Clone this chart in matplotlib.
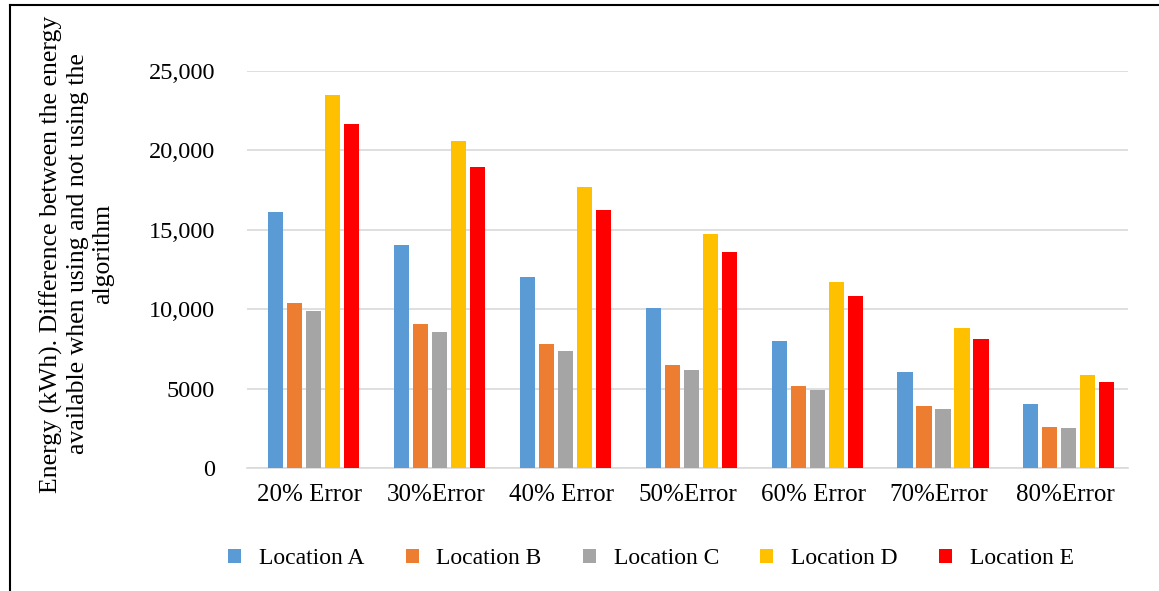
import matplotlib.pyplot as plt
import numpy as np
from matplotlib.lines import Line2D

plt.rcParams['font.family'] = ['Liberation Serif', 'DejaVu Serif']

categories = ['20% Error', '30%Error', '40% Error', '50%Error',
              '60% Error', '70%Error', '80%Error']
locations = ['Location A', 'Location B', 'Location C', 'Location D', 'Location E']
colors = ['#5b9bd5', '#ed7d31', '#a5a5a5', '#ffc000', '#ff0000']

loc_a = [16120, 14080, 12030, 10090, 8020, 6080, 4030]
loc_b = [10430, 9090, 7810, 6520, 5200, 3920, 2620]
loc_c = [9900, 8560, 7350, 6190, 4930, 3710, 2520]
loc_d = [23500, 20570, 17700, 14750, 11710, 8820, 5880]
loc_e = [21680, 18950, 16270, 13580, 10850, 8140, 5450]
series = [loc_a, loc_b, loc_c, loc_d, loc_e]

fig = plt.figure(figsize=(11.59, 5.91), dpi=100)
ax = fig.add_axes([247 / 1159, 1 - 468.3 / 591, (1128 - 247) / 1159, (468.3 - 71) / 591])

x = np.arange(len(categories))
slot = 0.151
width = 0.12
for i, (vals, name, c) in enumerate(zip(series, locations, colors)):
    ax.bar(x + (i - 2) * slot + 0.03, vals, width, color=c, label=name, zorder=3)

ax.set_xlim(-0.5, len(categories) - 0.5)
ax.set_ylim(0, 25000)
ax.set_yticks([0, 5000, 10000, 15000, 20000, 25000])
ax.set_yticklabels(['0', '5000', '10,000', '15,000', '20,000', '25,000'], fontsize=17.5)
ax.set_xticks(x)
ax.set_xticklabels(categories, fontsize=18)
ax.tick_params(axis='both', length=0)
ax.tick_params(axis='y', pad=23)
ax.tick_params(axis='x', pad=11)
ax.yaxis.grid(True, color='#d9d9d9', linewidth=1.2, zorder=0)
for s in ['top', 'right', 'left']:
    ax.spines[s].set_visible(False)
ax.spines['bottom'].set_color('#d9d9d9')
ax.spines['bottom'].set_linewidth(1.2)

fig.text(77 / 1159, 1 - 254 / 591,
         'Energy (kWh). Difference between the energy\navailable when using and not using the\nalgorithm',
         rotation=90, ha='center', va='center', fontsize=18.5, linespacing=1.2,
         multialignment='center')

ax.legend(loc='center', bbox_to_anchor=((651 - 247) / (1128 - 247), -0.228), ncol=5,
          frameon=False, fontsize=17, handlelength=0.55, handleheight=0.55,
          columnspacing=1.75, handletextpad=0.75)

# outer border (top and left only)
fig.add_artist(Line2D([10 / 1159, 1], [1 - 5 / 591, 1 - 5 / 591], color='black',
                      linewidth=1.5, transform=fig.transFigure))
fig.add_artist(Line2D([10 / 1159, 10 / 1159], [0, 1 - 5 / 591], color='black',
                      linewidth=1.5, transform=fig.transFigure))

fig.savefig('out.png', dpi=100)
